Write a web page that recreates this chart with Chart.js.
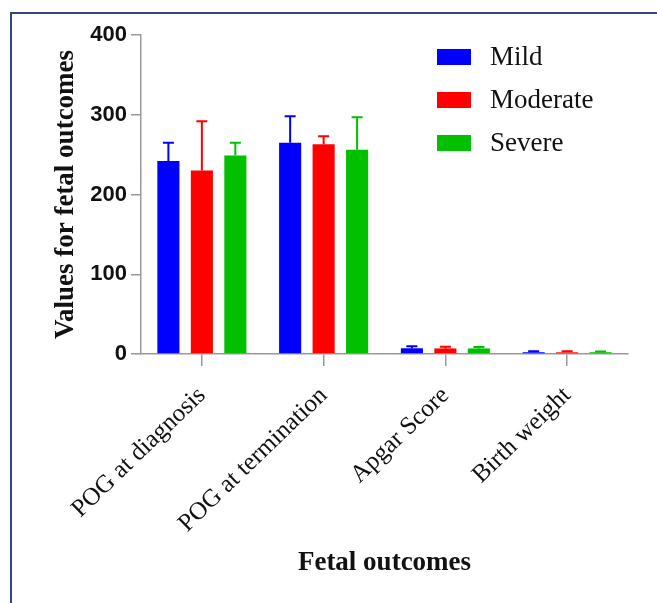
<!DOCTYPE html>
<html>
<head>
<meta charset="utf-8">
<script src="https://cdn.jsdelivr.net/npm/chart.js@4"></script>
<style>
  body { margin: 0; background: #fff; }
  #marco { position: absolute; left: 10px; top: 12px; right: -4px; bottom: -4px; border-top: 2px solid #34467a; border-left: 2px solid #34467a; }
  #grafico { position: absolute; left: 0; top: 0; }
</style>
</head>
<body>
<div id="marco"></div>
<canvas id="grafico" width="657" height="603"></canvas>
<script>
// categorias y valores
const categorias = ["POG at diagnosis", "POG at termination", "Apgar Score", "Birth weight"];
const leve = [242, 265, 7.2, 2.2];
const moderado = [230, 263, 7.0, 2.1];
const severo = [249, 256, 7.0, 2.2];
// desviacion (solo hacia arriba)
const errLeve = [23, 33, 2.4, 1.2];
const errModerado = [62, 10, 2.0, 1.2];
const errSevero = [16, 41, 1.8, 1.0];
const ticksY = [0, 100, 200, 300, 400];

const serif = "'Liberation Serif', 'Times New Roman', serif";
const sans = "'Liberation Sans', Arial, sans-serif";

// barras de error
const barrasError = {
  id: "barrasError",
  afterDatasetsDraw(chart) {
    const ctx = chart.ctx;
    const y = chart.scales.y;
    chart.data.datasets.forEach((ds, i) => {
      const meta = chart.getDatasetMeta(i);
      meta.data.forEach((bar, j) => {
        const tope = y.getPixelForValue(ds.data[j] + ds.errores[j]);
        ctx.save();
        ctx.strokeStyle = ds.backgroundColor;
        ctx.lineWidth = 2;
        ctx.beginPath();
        ctx.moveTo(bar.x, bar.y);
        ctx.lineTo(bar.x, tope);
        ctx.moveTo(bar.x - 5.5, tope);
        ctx.lineTo(bar.x + 5.5, tope);
        ctx.stroke();
        ctx.restore();
      });
    });
  }
};

// leyenda dentro del area
const leyenda = {
  id: "leyenda",
  afterDraw(chart) {
    const ctx = chart.ctx;
    ctx.save();
    chart.data.datasets.forEach((ds, i) => {
      const cy = 57 + i * 43;
      ctx.fillStyle = ds.backgroundColor;
      ctx.fillRect(437, cy - 8, 34, 16);
      ctx.fillStyle = "#111";
      ctx.font = "27px " + serif;
      ctx.textBaseline = "middle";
      ctx.fillText(ds.label, 490, cy + 1);
    });
    ctx.restore();
  }
};

const ctx = document.getElementById("grafico").getContext("2d");
new Chart(ctx, {
  type: "bar",
  data: {
    labels: categorias,
    datasets: [
      { label: "Mild", data: leve, errores: errLeve, backgroundColor: "#0000ff" },
      { label: "Moderate", data: moderado, errores: errModerado, backgroundColor: "#ff0000" },
      { label: "Severe", data: severo, errores: errSevero, backgroundColor: "#00c000" }
    ]
  },
  options: {
    responsive: false,
    animation: false,
    categoryPercentage: 0.825,
    barPercentage: 0.66,
    layout: { padding: { top: 35, right: 29, left: 0, bottom: 0 } },
    plugins: {
      legend: { display: false },
      tooltip: { enabled: false }
    },
    scales: {
      x: {
        offset: true,
        grid: { offset: false, drawOnChartArea: false, tickLength: 12, color: "#999", lineWidth: 1.5 },
        border: { color: "#999", width: 1.5 },
        ticks: {
          autoSkip: false,
          minRotation: 44,
          maxRotation: 44,
          padding: 15,
          color: "#111",
          font: { family: serif, size: 25 }
        },
        title: {
          display: true,
          text: "Fetal outcomes",
          color: "#111",
          font: { family: serif, size: 27, weight: "bold" },
          padding: { top: 0, bottom: 24 }
        },
        afterFit(scale) { scale.height = 249; }
      },
      y: {
        min: 0,
        max: 400,
        afterBuildTicks(scale) { scale.ticks = ticksY.map(v => ({ value: v })); },
        grid: { drawOnChartArea: false, tickLength: 10, color: "#999", lineWidth: 1.5 },
        border: { color: "#999", width: 1.5 },
        ticks: {
          padding: 4,
          color: "#111",
          font: { family: sans, size: 22, weight: "bold" }
        },
        title: {
          display: true,
          text: "Values for fetal outcomes",
          color: "#111",
          font: { family: serif, size: 27, weight: "bold" },
          padding: { top: 50, bottom: 0 }
        },
        afterFit(scale) { scale.width = 141; }
      }
    }
  },
  plugins: [barrasError, leyenda]
});
</script>
</body>
</html>
